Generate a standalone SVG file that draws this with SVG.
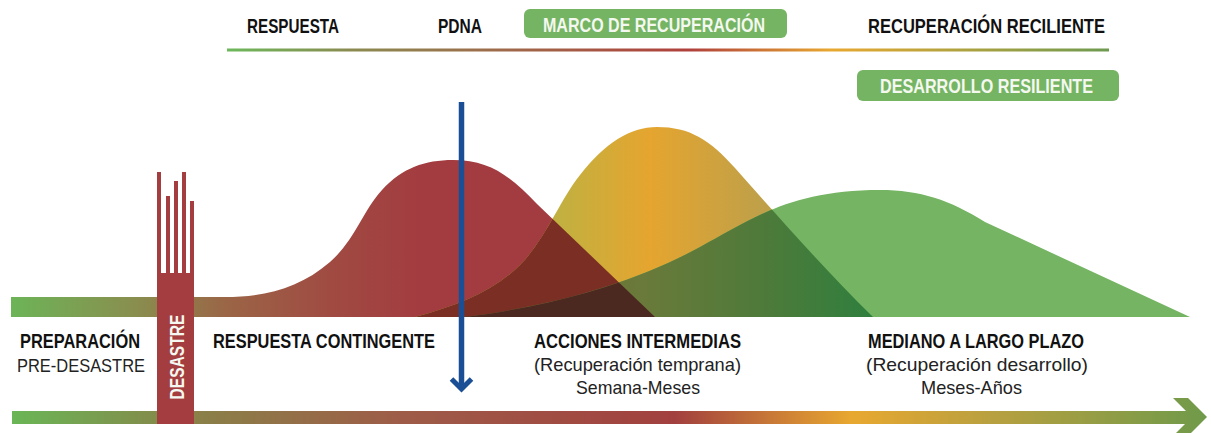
<svg xmlns="http://www.w3.org/2000/svg" width="1211" height="433" viewBox="0 0 1211 433">
<style>
.b{font-family:"Liberation Sans",Arial,sans-serif;font-weight:bold;font-size:20px;fill:#111}
.r{font-family:"Liberation Sans",Arial,sans-serif;font-size:19px;fill:#222}
.w{font-family:"Liberation Sans",Arial,sans-serif;font-weight:bold;font-size:20px;fill:#f4f8f0}
.box{fill:#74b462}
</style>
<defs>
<linearGradient id="gTop" gradientUnits="userSpaceOnUse" x1="227" y1="0" x2="1109" y2="0">
<stop offset="0" stop-color="#6cb85a"/><stop offset="0.14" stop-color="#8a8a50"/><stop offset="0.31" stop-color="#9e6a4a"/><stop offset="0.525" stop-color="#b0403c"/><stop offset="0.685" stop-color="#e8a830"/><stop offset="1" stop-color="#6d9a50"/>
</linearGradient>
<linearGradient id="gBot" gradientUnits="userSpaceOnUse" x1="11" y1="0" x2="1207" y2="0">
<stop offset="0" stop-color="#6ab656"/><stop offset="0.158" stop-color="#8a8048"/><stop offset="0.326" stop-color="#9e5c48"/><stop offset="0.555" stop-color="#a2403f"/><stop offset="0.703" stop-color="#e8a830"/><stop offset="0.82" stop-color="#b8a040"/><stop offset="1" stop-color="#6f9a4a"/>
</linearGradient>
<linearGradient id="gRed" gradientUnits="userSpaceOnUse" x1="11" y1="0" x2="655" y2="0">
<stop offset="0" stop-color="#6cb457"/><stop offset="0.185" stop-color="#88904f"/><stop offset="0.34" stop-color="#9b6446"/><stop offset="0.5" stop-color="#a04a42"/><stop offset="0.635" stop-color="#a33c40"/><stop offset="1" stop-color="#a33c40"/>
</linearGradient>
<linearGradient id="gYel" gradientUnits="userSpaceOnUse" x1="415" y1="0" x2="873" y2="0">
<stop offset="0" stop-color="#b8b048"/><stop offset="0.317" stop-color="#c2b040"/><stop offset="0.513" stop-color="#e5a52f"/><stop offset="0.75" stop-color="#c0a048"/><stop offset="1" stop-color="#b0a050"/>
</linearGradient>
<linearGradient id="gYG" gradientUnits="userSpaceOnUse" x1="540" y1="0" x2="873" y2="0">
<stop offset="0" stop-color="#6c6f30"/><stop offset="0.3" stop-color="#6a7a3a"/><stop offset="0.66" stop-color="#4f7a3a"/><stop offset="1" stop-color="#2f7f3e"/>
</linearGradient>
<path id="pRed" d="M11,297 L225,297 C265,297 300,288 330,262 C355,240 362,212 382,190 C402,168 425,160 453,160 C490,160 510,176 537,204 L655,317 L11,317 Z"/>
<path id="pYel" d="M415,317 C460,305 495,290 520,265 C545,240 560,200 580,175 C605,143 630,127 657,127 C690,127 710,140 735,168 C790,230 830,275 873,317 Z"/>
<path id="pGrn" d="M465,317 C560,305 640,280 700,247 C750,220 790,190 880,190 C920,190 950,200 985,222 L1190,317 Z"/>
<clipPath id="cRed"><use href="#pRed"/></clipPath>
<clipPath id="cYel"><use href="#pYel"/></clipPath>
</defs>

<g id="hills">
<use href="#pRed" fill="url(#gRed)"/>
<use href="#pYel" fill="url(#gYel)"/>
<use href="#pGrn" fill="#74b462"/>
<g clip-path="url(#cRed)"><use href="#pYel" fill="#7b2f24"/></g>
<g clip-path="url(#cYel)"><use href="#pGrn" fill="url(#gYG)"/></g>
<g clip-path="url(#cRed)"><g clip-path="url(#cYel)"><use href="#pGrn" fill="#4b2920"/></g></g>
</g>

<g id="connectors">
<rect x="227" y="48.5" width="882" height="3" fill="url(#gTop)"/>
<path d="M12,411 H1192 V424 H12 Z M1173,398 H1188 L1207,417 L1188,436 H1173 L1192,417 Z" fill="url(#gBot)"/>
<line x1="461.5" y1="102" x2="461.5" y2="387" stroke="#1a4f95" stroke-width="5.5"/>
<polyline points="451.5,379 461.5,389 471.5,379" fill="none" stroke="#1a4f95" stroke-width="5"/>
</g>

<g id="desastre">
<path fill="#a33d3f" d="M157,172 H161 V273 H166 V196 H170 V273 H174 V181 H178 V273 H182 V172 H186 V273 H190 V201 H194 V424 H157 Z"/>
<text class="w" transform="translate(184,357) rotate(-90)" text-anchor="middle" font-size="17" textLength="85" lengthAdjust="spacingAndGlyphs">DESASTRE</text>
</g>

<g id="top-labels">
<text class="b" x="247" y="33" textLength="92" lengthAdjust="spacingAndGlyphs">RESPUESTA</text>
<text class="b" x="438" y="33" textLength="44" lengthAdjust="spacingAndGlyphs">PDNA</text>
<text class="b" x="868" y="33" textLength="237" lengthAdjust="spacingAndGlyphs">RECUPERACIÓN RECILIENTE</text>
</g>
<g id="marco">
<rect class="box" x="524" y="9" width="263" height="29" rx="6"/>
<text class="w" x="543" y="32" textLength="222" lengthAdjust="spacingAndGlyphs">MARCO DE RECUPERACIÓN</text>
</g>
<g id="desarrollo">
<rect class="box" x="857" y="70" width="262" height="31" rx="6"/>
<text class="w" x="880" y="93" textLength="213" lengthAdjust="spacingAndGlyphs">DESARROLLO RESILIENTE</text>
</g>

<g id="preparacion">
<text class="b" x="20" y="348" textLength="120" lengthAdjust="spacingAndGlyphs">PREPARACIÓN</text>
<text class="r" x="17" y="372" textLength="128" lengthAdjust="spacingAndGlyphs">PRE-DESASTRE</text>
</g>
<g id="respuesta-contingente">
<text class="b" x="213" y="348" textLength="222" lengthAdjust="spacingAndGlyphs">RESPUESTA CONTINGENTE</text>
</g>
<g id="acciones">
<text class="b" x="534" y="348" textLength="207" lengthAdjust="spacingAndGlyphs">ACCIONES INTERMEDIAS</text>
<text class="r" x="534" y="371" textLength="207" lengthAdjust="spacingAndGlyphs">(Recuperación temprana)</text>
<text class="r" x="576" y="394" textLength="124" lengthAdjust="spacingAndGlyphs">Semana-Meses</text>
</g>
<g id="mediano">
<text class="b" x="868" y="348" textLength="216" lengthAdjust="spacingAndGlyphs">MEDIANO A LARGO PLAZO</text>
<text class="r" x="866" y="371" textLength="222" lengthAdjust="spacingAndGlyphs">(Recuperación desarrollo)</text>
<text class="r" x="921" y="394" textLength="101" lengthAdjust="spacingAndGlyphs">Meses-Años</text>
</g>
</svg>
